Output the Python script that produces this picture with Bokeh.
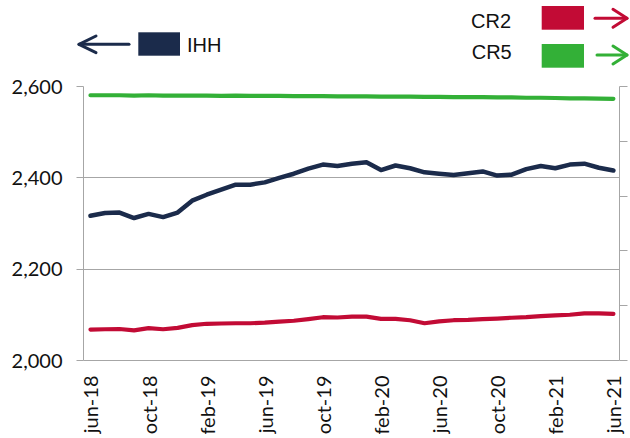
import math
from bokeh.plotting import figure
from bokeh.models import Range1d, LinearAxis, FixedTicker, NumeralTickFormatter, Div
from bokeh.layouts import column
from bokeh.embed import file_html
from bokeh.resources import INLINE

# ---------------- data ----------------
periods = [
    "jun-18", "jul-18", "ago-18", "sep-18", "oct-18", "nov-18", "dic-18",
    "ene-19", "feb-19", "mar-19", "abr-19", "may-19", "jun-19", "jul-19",
    "ago-19", "sep-19", "oct-19", "nov-19", "dic-19", "ene-20", "feb-20",
    "mar-20", "abr-20", "may-20", "jun-20", "jul-20", "ago-20", "sep-20",
    "oct-20", "nov-20", "dic-20", "ene-21", "feb-21", "mar-21", "abr-21",
    "may-21", "jun-21",
]
ihh = [2317, 2323, 2324, 2312, 2321, 2314, 2324, 2350, 2363, 2374, 2385, 2385,
       2390, 2400, 2409, 2420, 2429, 2426, 2431, 2434, 2417, 2427, 2421, 2412,
       2409, 2406, 2410, 2414, 2405, 2407, 2419, 2426, 2421, 2429, 2431, 2422,
       2416]
cr2 = [11.3, 11.4, 11.5, 11.0, 11.8, 11.4, 11.9, 12.9, 13.4, 13.5, 13.6, 13.6,
       13.8, 14.2, 14.5, 15.1, 15.8, 15.7, 16.0, 16.0, 15.2, 15.2, 14.7, 13.6,
       14.3, 14.7, 14.8, 15.1, 15.3, 15.6, 15.8, 16.2, 16.5, 16.7, 17.2, 17.2,
       17.0]
cr5 = [96.8, 96.8, 96.8, 96.7, 96.8, 96.7, 96.7, 96.7, 96.7, 96.6, 96.7, 96.6,
       96.6, 96.6, 96.5, 96.5, 96.5, 96.4, 96.4, 96.4, 96.3, 96.3, 96.3, 96.2,
       96.2, 96.1, 96.1, 96.1, 96.0, 96.0, 95.9, 95.9, 95.8, 95.7, 95.7, 95.6,
       95.5]
series = ["IHH", "CR2", "CR5"]
left_ticks = [2000, 2200, 2400, 2600]
right_ticks = [0, 20, 40, 60, 80, 100]
label_step = 4

# ---------------- styles ----------------
NAVY = "#1B2B4B"
RED = "#C20B35"
GREEN = "#33B037"
GRAY = "#A6A6A6"
TXT = "#111111"
FONT = "Lato"
FS = "20px"
W, H, TOP = 630, 438, 68

x = list(range(len(periods)))

p = figure(width=W, height=H - TOP,
           x_range=Range1d(-0.48, len(periods) - 1 + 0.42),
           y_range=Range1d(left_ticks[0], left_ticks[-1]),
           output_backend="svg", toolbar_location=None,
           min_border_left=83, min_border_right=11,
           min_border_top=86 - TOP, min_border_bottom=78)
p.outline_line_color = None
p.background_fill_color = "white"
p.border_fill_color = "white"
p.extra_y_ranges = {"cr": Range1d(right_ticks[0], right_ticks[-1])}

p.xgrid.visible = False
p.ygrid.ticker = FixedTicker(ticks=left_ticks)
p.ygrid.grid_line_color = GRAY
p.ygrid.grid_line_width = 1

yl = p.yaxis[0]
yl.ticker = FixedTicker(ticks=left_ticks)
yl.formatter = NumeralTickFormatter(format="0,0")
yl.axis_line_color = GRAY
yl.major_tick_line_color = GRAY
yl.major_tick_out = 7
yl.major_tick_in = 0
yl.minor_tick_out = 0
yl.minor_tick_in = 0
yl.major_label_standoff = 14
yl.major_label_text_font = FONT
yl.major_label_text_font_size = FS
yl.major_label_text_color = TXT

xa = p.xaxis[0]
shown = list(range(0, len(periods), label_step))
xa.ticker = FixedTicker(ticks=shown)
xa.major_label_overrides = {i: periods[i] for i in shown}
xa.major_label_orientation = math.pi / 2
xa.axis_line_color = GRAY
xa.major_tick_out = 0
xa.major_tick_in = 0
xa.minor_tick_out = 0
xa.minor_tick_in = 0
xa.major_label_standoff = 15
xa.major_label_text_font = FONT
xa.major_label_text_font_size = FS
xa.major_label_text_color = TXT

yr = LinearAxis(y_range_name="cr", ticker=FixedTicker(ticks=right_ticks),
                major_label_text_font_size="1px", major_label_text_color=None,
                major_label_standoff=0,
                major_tick_out=8, major_tick_in=0, minor_tick_out=0,
                minor_tick_in=0, axis_line_color=GRAY,
                major_tick_line_color=GRAY)
p.add_layout(yr, "right")

p.line(x, cr2, y_range_name="cr", line_color=RED, line_width=4.2,
       line_cap="round", line_join="round")
p.line(x, cr5, y_range_name="cr", line_color=GREEN, line_width=4.2,
       line_cap="round", line_join="round")
p.line(x, ihh, line_color=NAVY, line_width=4.5,
       line_cap="round", line_join="round")

# ---------------- legend strip (inline SVG, pixel layout) ----------------
colors = [NAVY, RED, GREEN]
boxes = [(138.3, 32.3, 41.7, 23.4), (541.7, 6.0, 42.3, 23.7), (541.7, 44.0, 42.3, 23.7)]
# (shaft start x, tip x, y, head length, head half-height)
arrows = [(129, 79, 44.3, 17, 8.3), (595, 627, 18.3, 14, 9), (597, 627, 55.0, 14, 9)]
label_pos = [(187, 44.5), (471, 21.0), (471.7, 51.5)]

parts = ['<svg xmlns="http://www.w3.org/2000/svg" width="%d" height="%d" '
         'style="display:block">' % (W, TOP)]
for (bx, by, bw, bh), c in zip(boxes, colors):
    parts.append('<rect x="%s" y="%s" width="%s" height="%s" fill="%s"/>' % (bx, by, bw, bh, c))
for (xs, xt, yy, hl, hh), c in zip(arrows, colors):
    d = 1 if xt > xs else -1
    parts.append('<g fill="none" stroke="%s" stroke-width="3" stroke-linecap="round" '
                 'stroke-linejoin="round">' % c)
    parts.append('<line x1="%s" y1="%s" x2="%s" y2="%s"/>' % (xs, yy, xt, yy))
    parts.append('<polyline points="%s,%s %s,%s %s,%s"/>' %
                 (xt - d * hl, yy - hh, xt, yy, xt - d * hl, yy + hh))
    parts.append('</g>')
for (lx, ly), s in zip(label_pos, series):
    parts.append('<text x="%s" y="%s" dominant-baseline="central" font-family="%s" '
                 'font-size="20" fill="%s">%s</text>' % (lx, ly, FONT, TXT, s))
parts.append('</svg>')

legend = Div(text="".join(parts), width=W, height=TOP, margin=0,
             styles={"padding": "0", "margin": "0", "line-height": "0"})

layout = column(legend, p, spacing=0)
open("out.html", "w").write(file_html(layout, INLINE))
